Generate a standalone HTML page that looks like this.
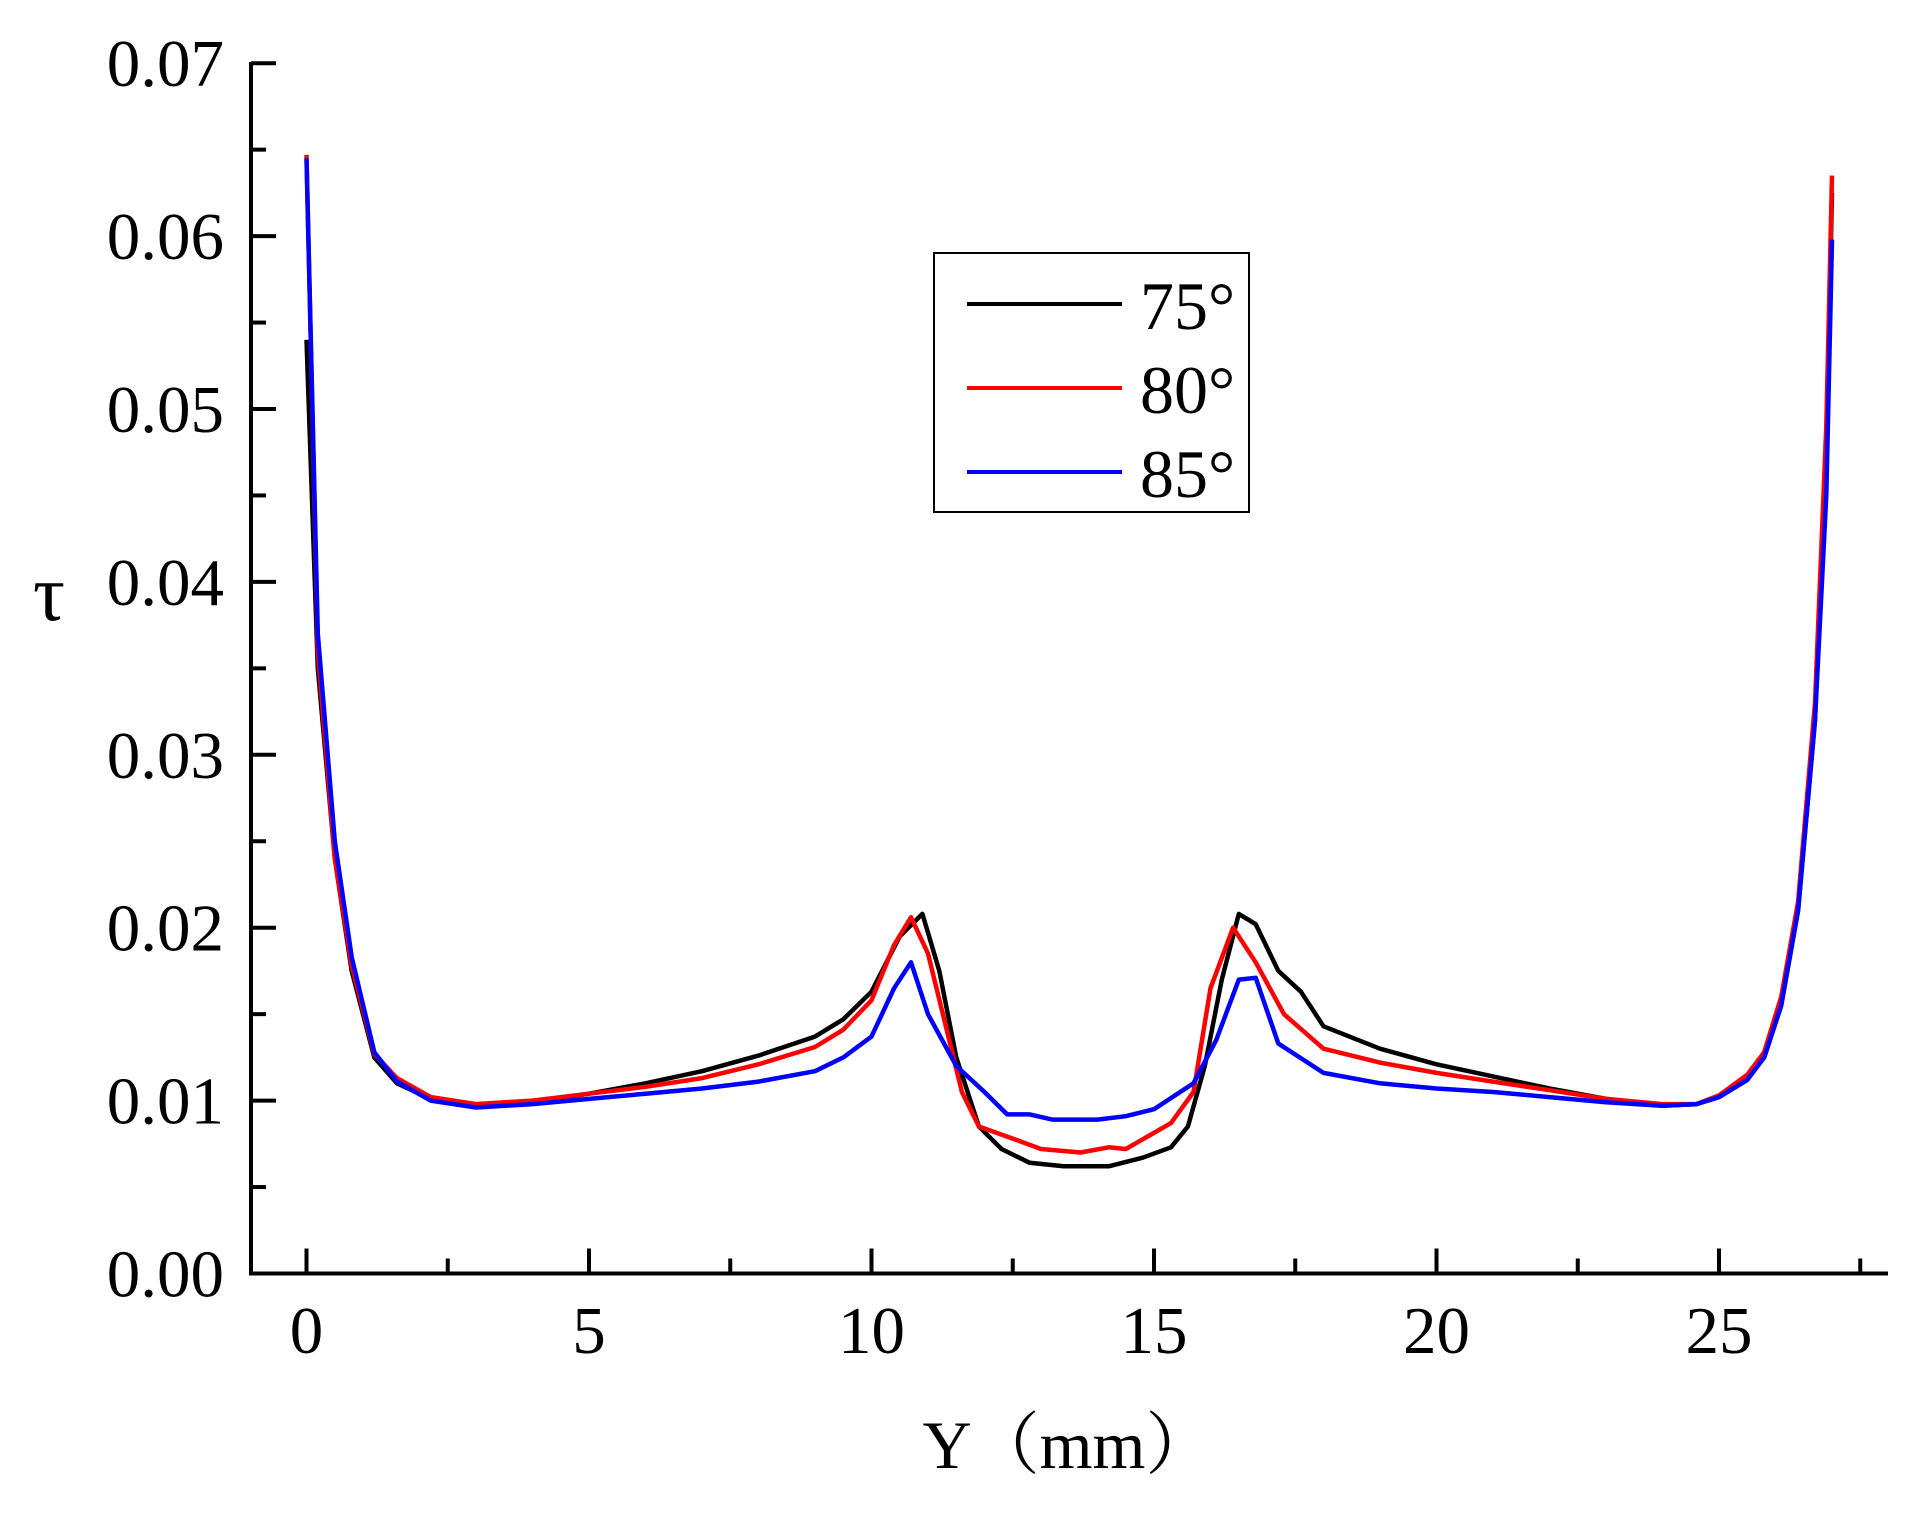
<!DOCTYPE html>
<html><head><meta charset="utf-8"><style>
html,body{margin:0;padding:0;background:#fff;}
svg{display:block;}
text{font-family:"Liberation Serif","Noto Serif CJK SC",serif;fill:#000;}
</style></head><body>
<svg id="s" width="1912" height="1515" viewBox="0 0 1912 1515" xmlns="http://www.w3.org/2000/svg">
<g stroke="#000" stroke-width="4" fill="none">
<line x1="251" y1="62" x2="251" y2="1275.5"/>
<line x1="249" y1="1273.5" x2="1888" y2="1273.5"/>
</g>
<g id="ticks" stroke="#000" stroke-width="4"></g>
<g id="labels" font-size="67"></g>
<text x="49" y="620" font-size="80" text-anchor="middle">τ</text>
<text x="1068" y="1468" font-size="68" text-anchor="middle">Y（mm）</text>
<g id="curves" fill="none" stroke-width="4.5" stroke-linejoin="round"></g>
<rect x="934" y="253" width="315" height="259" fill="#fff" stroke="#000" stroke-width="2"/>
<line x1="967" y1="304" x2="1122" y2="304" stroke="#000" stroke-width="4"/>
<line x1="967" y1="388" x2="1122" y2="388" stroke="#f00" stroke-width="4"/>
<line x1="967" y1="472" x2="1122" y2="472" stroke="#00f" stroke-width="4"/>
<text x="1140" y="329" font-size="68">75°</text>
<text x="1140" y="413" font-size="68">80°</text>
<text x="1140" y="497" font-size="68">85°</text>
</svg>
<script>
var X=function(x){return 306.5+x*56.5;}, Y=function(v){return 1273.5-v*17290;};
var ns="http://www.w3.org/2000/svg";
var T=document.getElementById('ticks'),L=document.getElementById('labels'),C=document.getElementById('curves');
function el(p,tag,a,txt){var e=document.createElementNS(ns,tag);for(var k in a)e.setAttribute(k,a[k]);if(txt!==undefined)e.textContent=txt;p.appendChild(e);return e;}
for(var i=0;i<=14;i++){var v=i*0.005,y=Y(v),maj=i%2==0;
 el(T,'line',{x1:251,y1:y,x2:251+(maj?25:15),y2:y});
 if(maj) el(L,'text',{x:224,y:y+23,'text-anchor':'end'},(v).toFixed(2));}
for(var i=0;i<=11;i++){var x=X(i*2.5),maj=i%2==0;
 el(T,'line',{x1:x,y1:1273.5,x2:x,y2:1273.5-(maj?25:15)});
 if(maj) el(L,'text',{x:x,y:1353,'text-anchor':'middle'},String(i*2.5));}
var black=[[0,0.054],[0.2,0.035],[0.5,0.024],[0.8,0.0175],[1.2,0.0125],[1.6,0.011],[2.2,0.0101],[3,0.0097],[4,0.0099],[5,0.0104],[6,0.011],[7,0.0117],[8,0.0126],[9,0.0137],[9.5,0.0147],[10,0.0163],[10.5,0.0195],[10.9,0.0208],[11.2,0.0175],[11.5,0.0125],[11.9,0.0085],[12.3,0.0072],[12.8,0.0064],[13.4,0.0062],[14.2,0.0062],[14.8,0.0067],[15.3,0.0073],[15.6,0.0085],[15.9,0.012],[16.2,0.017],[16.5,0.0208],[16.8,0.0202],[17.2,0.0175],[17.6,0.0163],[18,0.0143],[19,0.013],[20,0.0121],[21,0.0114],[22,0.0107],[23,0.0101],[24,0.0097],[24.6,0.0098],[25,0.0102],[25.4,0.011],[25.8,0.0125],[26.1,0.0155],[26.4,0.021],[26.7,0.032],[26.9,0.048],[27,0.0625]];
var red=[[0,0.0647],[0.2,0.036],[0.5,0.024],[0.8,0.0178],[1.2,0.0127],[1.6,0.0113],[2.2,0.0102],[3,0.0098],[4,0.01],[5,0.0104],[6,0.0108],[7,0.0113],[8,0.0121],[9,0.0131],[9.5,0.0141],[10,0.0158],[10.4,0.019],[10.7,0.0206],[11.0,0.0185],[11.3,0.0145],[11.6,0.0105],[11.9,0.0085],[12.5,0.0078],[13,0.0072],[13.7,0.007],[14.2,0.0073],[14.5,0.0072],[15.3,0.0087],[15.7,0.0105],[16.0,0.0165],[16.4,0.02],[16.8,0.018],[17.3,0.015],[18,0.013],[19,0.0122],[20,0.0116],[21,0.0111],[22,0.0106],[23,0.0101],[24,0.0098],[24.6,0.0098],[25,0.0103],[25.5,0.0115],[25.8,0.0128],[26.1,0.016],[26.4,0.0215],[26.7,0.033],[26.9,0.049],[27,0.0635]];
var blue=[[0,0.0645],[0.2,0.037],[0.5,0.025],[0.8,0.0183],[1.2,0.0128],[1.6,0.0111],[2.2,0.01],[3,0.0096],[4,0.0098],[5,0.0101],[6,0.0104],[7,0.0107],[8,0.0111],[9,0.0117],[9.5,0.0125],[10,0.0137],[10.4,0.0165],[10.7,0.018],[11.0,0.015],[11.5,0.012],[12.0,0.0105],[12.4,0.0092],[12.8,0.0092],[13.2,0.0089],[14,0.0089],[14.5,0.0091],[15,0.0095],[15.7,0.011],[16.1,0.0135],[16.5,0.017],[16.8,0.0171],[17.2,0.0133],[18,0.0116],[19,0.011],[20,0.0107],[21,0.0105],[22,0.0102],[23,0.0099],[24,0.0097],[24.6,0.0098],[25,0.0102],[25.5,0.0112],[25.8,0.0125],[26.1,0.0155],[26.4,0.021],[26.7,0.032],[26.9,0.045],[27,0.0598]];
[[black,'#000'],[red,'#f00'],[blue,'#00f']].forEach(function(s){
 el(C,'polyline',{stroke:s[1],points:s[0].map(function(p){return X(p[0]).toFixed(1)+','+Y(p[1]).toFixed(1);}).join(' ')});});
</script>
</body></html>
